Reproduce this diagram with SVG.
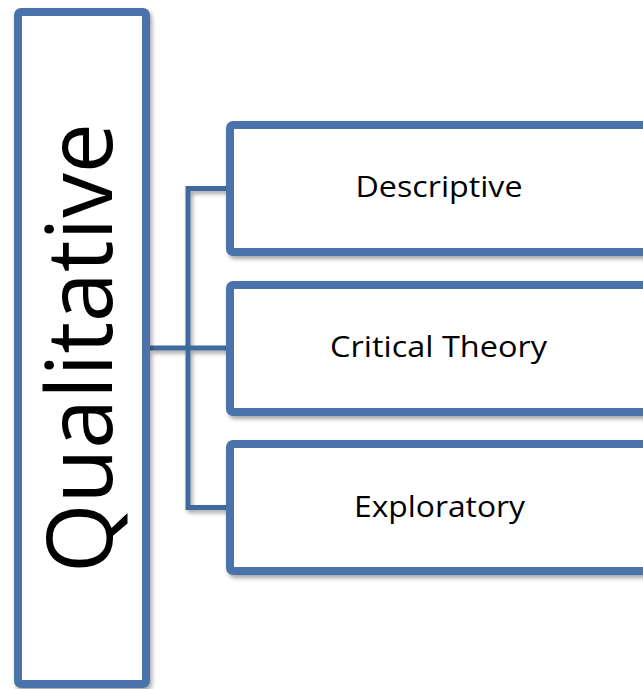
<svg xmlns="http://www.w3.org/2000/svg" width="643" height="689" viewBox="0 0 643 689">
<defs>
<filter id="sh" x="-10%" y="-10%" width="130%" height="130%">
<feDropShadow dx="2" dy="3" stdDeviation="2" flood-color="#000" flood-opacity="0.35"/>
</filter>
<style>
.box{fill:#fff;stroke:#4873aa;stroke-width:8;filter:url(#sh)}
.lbl{font-family:"Open Sans","Liberation Sans",sans-serif;font-size:30px;fill:#000;text-anchor:middle}
.conn{fill:none;stroke:#41699e;stroke-width:5;filter:url(#sh)}
</style>
</defs>
<g id="connectors">
<path class="conn" d="M150 348 H188 M230 188.5 H188 V507.5 H230 M188 348 H230"/>
</g>
<g id="qualitative">
<rect class="box" x="18" y="12" width="128" height="672" rx="3"/>
<text transform="translate(112,348) rotate(-90)" x="0" y="0" text-anchor="middle" font-family="'Open Sans','Liberation Sans',sans-serif" font-size="92" textLength="450" lengthAdjust="spacingAndGlyphs">Qualitative</text>
</g>
<g id="descriptive">
<rect class="box" x="230" y="125" width="480" height="127" rx="3"/>
<text class="lbl" x="439" y="197" textLength="167" lengthAdjust="spacingAndGlyphs">Descriptive</text>
</g>
<g id="critical">
<rect class="box" x="230" y="285" width="480" height="127" rx="3"/>
<text class="lbl" x="438.5" y="357" textLength="217" lengthAdjust="spacingAndGlyphs">Critical Theory</text>
</g>
<g id="exploratory">
<rect class="box" x="230" y="444" width="480" height="127" rx="3"/>
<text class="lbl" x="439.5" y="517" textLength="171" lengthAdjust="spacingAndGlyphs">Exploratory</text>
</g>
</svg>
